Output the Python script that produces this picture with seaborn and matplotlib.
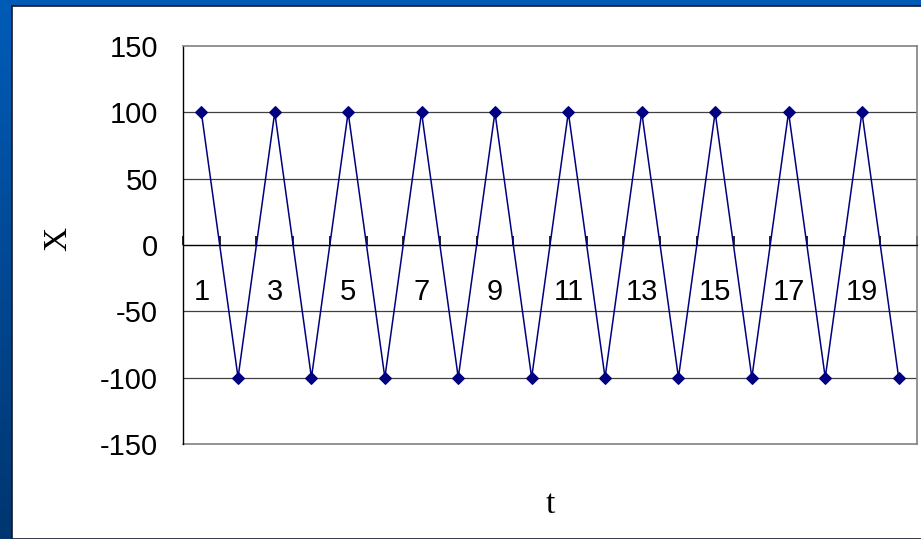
import numpy as np
import pandas as pd
import seaborn as sns
import matplotlib.pyplot as plt
from matplotlib.patches import Rectangle
from matplotlib.ticker import FixedLocator

# ---- data ----
t = list(range(1, 21))
x_vals = [100, -100, 100, -100, 100, -100, 100, -100, 100, -100,
          100, -100, 100, -100, 100, -100, 100, -100, 100, -100]
tick_labels = ['1', '3', '5', '7', '9', '11', '13', '15', '17', '19']
y_ticks = [-150, -100, -50, 0, 50, 100, 150]

df = pd.DataFrame({'t': t, 'X': x_vals})

sns.set_style('white')
plt.rcParams['font.family'] = ['Liberation Sans', 'DejaVu Sans']
plt.rcParams['text.color'] = 'black'
plt.rcParams['xtick.color'] = 'black'
plt.rcParams['ytick.color'] = 'black'
plt.rcParams['axes.labelcolor'] = 'black'

W, H = 921, 539
fig = plt.figure(figsize=(W / 100, H / 100), dpi=100)

# blue slide background with white panel
bg = fig.add_axes([0, 0, 1, 1], zorder=-2)
grad = np.linspace(0, 1, 256).reshape(-1, 1)
top_c = np.array([0.0, 0.36, 0.72])
bot_c = np.array([0.0, 0.21, 0.44])
img = top_c + (bot_c - top_c) * grad[:, :, None]
bg.imshow(img, aspect='auto', extent=[0, 1, 0, 1])
bg.add_patch(Rectangle((12 / W, 0), 1, 1 - 6 / H, facecolor='white',
                       edgecolor='#101828', linewidth=1.2))
bg.set_xlim(0, 1)
bg.set_ylim(0, 1)
bg.axis('off')

# plot area
left, right, top, bottom = 183, 917, 46, 444
ax = fig.add_axes([left / W, (H - bottom) / H, (right - left) / W, (bottom - top) / H])
ax.set_facecolor('white')

sns.lineplot(data=df, x='t', y='X', ax=ax, color='#000080', linewidth=1.1,
             marker='D', markersize=6.5, markeredgecolor='#000080', zorder=3)

ax.set_xlim(0.5, len(t) + 0.5)
ax.set_ylim(-150, 150)

# gridlines
for v in y_ticks[1:-1]:
    ax.axhline(v, color='#404040', linewidth=0.9, zorder=0.5)
ax.axhline(-150, color='#808080', linewidth=1.2, zorder=0.5, clip_on=False)

# spines: category axis crosses at zero
ax.spines['bottom'].set_position(('data', 0))
ax.spines['bottom'].set_color('black')
ax.spines['bottom'].set_linewidth(0.9)
ax.spines['left'].set_color('black')
ax.spines['left'].set_linewidth(1.0)
for s in ['top', 'right']:
    ax.spines[s].set_color('#808080')
    ax.spines[s].set_linewidth(1.2)

ax.set_yticks(y_ticks)
ax.set_yticklabels([str(v) for v in y_ticks], fontsize=21)
ax.tick_params(axis='y', direction='in', length=6.5, width=1.2, color='black', pad=18)

ax.set_xticks(t[::2])
ax.set_xticklabels(tick_labels, fontsize=21)
ax.xaxis.set_minor_locator(FixedLocator(np.arange(len(t) + 1) + 0.5))
ax.tick_params(axis='x', which='major', length=0, pad=24)
ax.tick_params(axis='x', which='minor', bottom=True, direction='in', length=6.5,
               width=1.2, color='black')

ax.set_xlabel('t', fontsize=24, family=['Liberation Serif', 'DejaVu Serif'])
ax.set_ylabel('X', fontsize=24, family=['Liberation Serif', 'DejaVu Serif'])
ax.xaxis.set_label_coords(0.5, -0.115)
ax.yaxis.set_label_coords(-0.15, 0.515)

fig.savefig('out.png', dpi=100)
